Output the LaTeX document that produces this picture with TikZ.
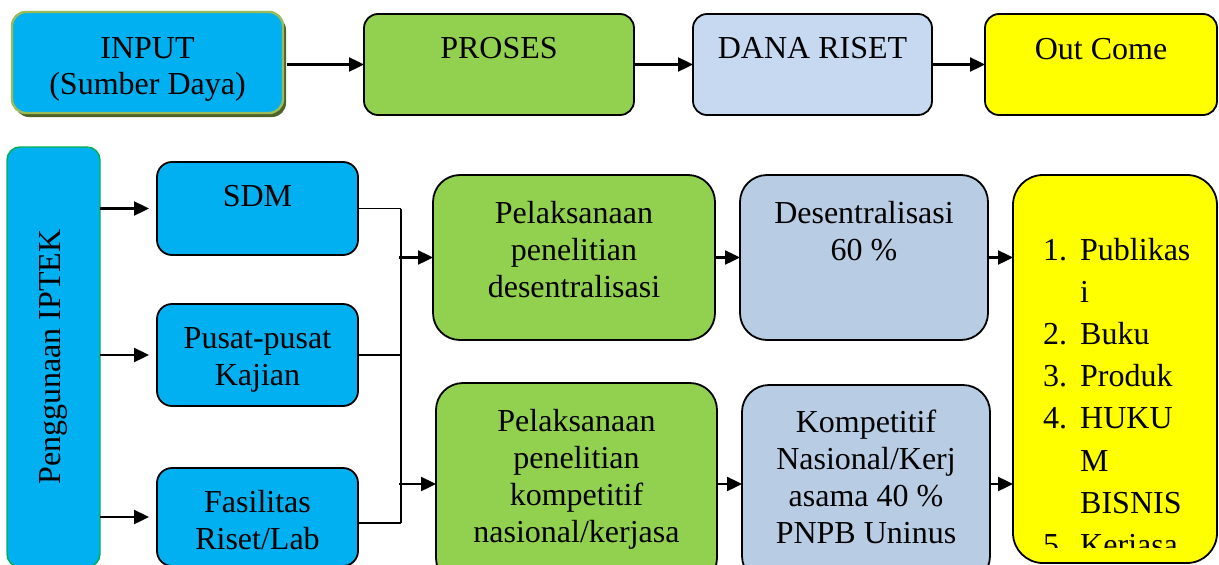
\documentclass[tikz,border=0pt]{standalone}
\usepackage{fontspec}
\setmainfont{Liberation Serif}
\usepackage{graphicx}
\usetikzlibrary{arrows.meta,shadows}
\definecolor{cyanbox}{HTML}{00B0F0}
\definecolor{greenbox}{HTML}{92D050}
\definecolor{danablue}{HTML}{C6D9F1}
\definecolor{bluegray}{HTML}{B8CCE4}
\definecolor{yellowbox}{HTML}{FFFF00}
\definecolor{oliveborder}{HTML}{9BBB59}
\definecolor{oliveshadow}{HTML}{4F6228}
\definecolor{pengborder}{HTML}{00B050}
\newcommand\bxtext[5]{\parbox[c][#2][t]{#1}{\centering\fontsize{32}{#5}\selectfont\vspace*{\dimexpr#3-0.7\baselineskip\relax}\strut#4\par}}
\begin{document}
\begin{tikzpicture}[x=1pt,y=-1pt,
  bx/.style={draw=black, line width=1.8pt, inner sep=0pt, outer sep=0pt},
  arr/.style={line width=2.4pt, -{Triangle[length=15pt,width=14pt]}},
  busline/.style={line width=1.6pt}]
\useasboundingbox (0,0) rectangle (1219,565);
\clip (0,0) rectangle (1219,565);

% top row
\node[bx, draw=oliveborder, line width=2.4pt, fill=cyanbox, rounded corners=14pt,
  drop shadow={shadow xshift=3pt, shadow yshift=-4pt, fill=oliveshadow, opacity=1}]
  (input) at (147.5,62.5) {\bxtext{271pt}{101pt}{46pt}{INPUT\\(Sumber Daya)}{36pt}};
\node[bx, fill=greenbox, rounded corners=14pt] (proses) at (499,64.5)
  {\bxtext{270pt}{101pt}{44pt}{PROSES}{37pt}};
\node[bx, fill=danablue, rounded corners=14pt] (dana) at (812.5,64.5)
  {\bxtext{239pt}{101pt}{44pt}{DANA RISET}{37pt}};
\node[bx, fill=yellowbox, rounded corners=14pt] (outcome) at (1101,64.5)
  {\bxtext{232pt}{101pt}{45pt}{Out Come}{37pt}};

\draw[arr] ([xshift=4pt]input.east |- proses.west) -- (proses.west);
\draw[arr] (proses.east) -- (dana.west);
\draw[arr] (dana.east) -- (outcome.west);

% left column
\node[bx, draw=pengborder, line width=1.4pt, fill=cyanbox, rounded corners=13pt] (peng) at (53.5,357)
  {\parbox[c][420pt][c]{93pt}{\centering\fontsize{32}{37}\selectfont\rotatebox{90}{Penggunaan IPTEK}}};
\node[bx, fill=cyanbox, rounded corners=15pt] (sdm) at (257.5,208.5)
  {\bxtext{201pt}{93pt}{44pt}{SDM}{37pt}};
\node[bx, fill=cyanbox, rounded corners=15pt] (pusat) at (257.5,355)
  {\bxtext{201pt}{102pt}{44pt}{Pusat-pusat\\Kajian}{37pt}};
\node[bx, fill=cyanbox, rounded corners=15pt] (fas) at (257.5,517)
  {\bxtext{201pt}{98pt}{44pt}{Fasilitas\\Riset/Lab}{37pt}};

\draw[arr, shorten >=8pt] (peng.east |- sdm.west) -- (sdm.west);
\draw[arr, shorten >=8pt] (peng.east |- pusat.west) -- (pusat.west);
\draw[arr, shorten >=8pt] (peng.east |- fas.west) -- (fas.west);

% middle and right columns
\node[bx, fill=greenbox, rounded corners=27pt] (g1) at (574,257.5)
  {\bxtext{282pt}{165pt}{48pt}{Pelaksanaan\\penelitian\\desentralisasi}{37pt}};
\node[bx, fill=bluegray, rounded corners=27pt] (b1) at (864,257.5)
  {\bxtext{248pt}{165pt}{48pt}{Desentralisasi\\60 \%}{37pt}};
\node[bx, fill=greenbox, rounded corners=27pt] (g2) at (576.5,484)
  {\bxtext{281pt}{202pt}{48pt}{Pelaksanaan\\penelitian\\kompetitif\\nasional/kerjasa}{37pt}};
\node[bx, fill=bluegray, rounded corners=27pt] (b2) at (866,484)
  {\bxtext{248pt}{198pt}{47pt}{Kompetitif\\Nasional/Kerj\\asama 40 \%\\PNPB Uninus}{37pt}};
\node[bx, fill=yellowbox, rounded corners=30pt, minimum width=204pt, minimum height=388pt] (out) at (1115,369) {};
\begin{scope}
  \clip (1013,175) rectangle (1217,547);
  \node[anchor=base west, inner sep=0pt] (outlist) at (1043,260)
    {\fontsize{32}{42.2}\selectfont\begin{tabular}[t]{@{}p{37pt}@{}l@{}}
      1. & Publikas\\
         & i\\
      2. & Buku\\
      3. & Produk\\
      4. & HUKU\\
         & M\\
         & BISNIS\\
      5. & Kerjasa
    \end{tabular}};
\end{scope}

% bus and connectors
\coordinate (busx) at (401,0);
\coordinate (fasout) at ([yshift=-6pt]fas.east);
\draw[busline] (sdm.east) -- (sdm.east -| busx);
\draw[busline] (pusat.east) -- (pusat.east -| busx);
\draw[busline] (fasout) -- (fasout -| busx);
\draw[busline] (busx |- sdm.east) -- (busx |- fasout);
\draw[arr] ([xshift=-2pt]busx |- g1.west) -- (g1.west);
\draw[arr] ([xshift=-2pt]busx |- g2.west) -- (g2.west);
\draw[arr] (g1.east) -- (b1.west);
\draw[arr] (g2.east) -- (b2.west);
\draw[arr] (b1.east) -- (b1.east -| out.west);
\draw[arr] (b2.east) -- (b2.east -| out.west);
\end{tikzpicture}
\end{document}
